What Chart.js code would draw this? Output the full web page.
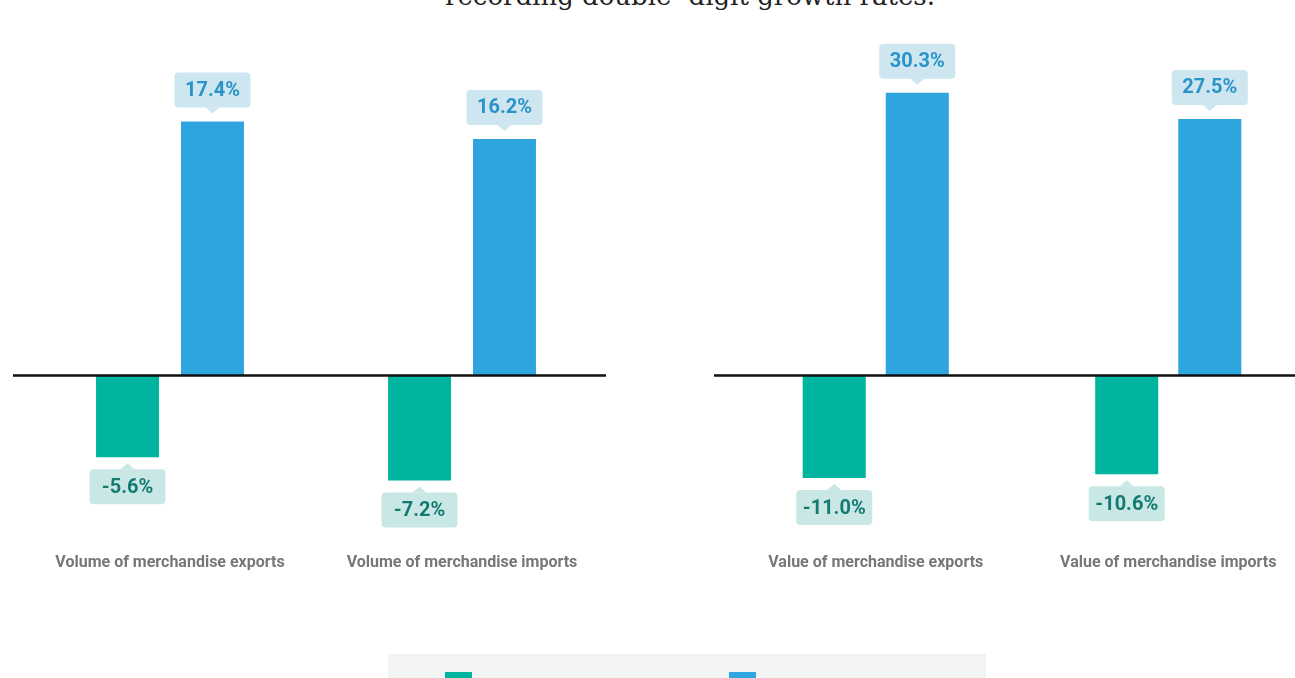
<!DOCTYPE html>
<html>
<head>
<meta charset="utf-8">
<script src="https://cdn.jsdelivr.net/npm/chart.js@4.4.0/dist/chart.umd.min.js"></script>
<style>
  html, body { margin: 0; padding: 0; background: #fff; width: 1295px; height: 678px; overflow: hidden; position: relative; }
  .title { position: absolute; left: 445px; top: -20px; white-space: nowrap; font-family: "DejaVu Serif", serif; font-size: 26px; line-height: 32px; color: #222; }
  canvas { position: absolute; top: 0; }
  #volumeChart { left: 0; }
  #valueChart { left: 680px; }
  .legend { position: absolute; left: 388px; top: 654px; width: 598px; height: 60px; background: #f2f3f3; font-family: Roboto, sans-serif; font-size: 15px; color: #555; }
  .legend .item { position: absolute; top: 18px; display: flex; align-items: flex-start; }
  .legend .swatch { width: 27px; height: 20px; margin-right: 10px; }
  .legend .text { margin-top: 10px; }
</style>
</head>
<body>
<div class="title">recording double- digit growth rates.</div>
<canvas id="volumeChart" width="640" height="600"></canvas>
<canvas id="valueChart" width="680" height="600"></canvas>
<div class="legend" id="legend"></div>

<script>
// Data
const volumeCategories = ['Volume of merchandise exports', 'Volume of merchandise imports'];
const valueCategories = ['Value of merchandise exports', 'Value of merchandise imports'];
const seriesLabels = ['2020', '2021'];
const volume2020 = [-5.6, -7.2];
const volume2021 = [17.4, 16.2];
const value2020 = [-11.0, -10.6];
const value2021 = [30.3, 27.5];

const greenBar = '#00b5a0', blueBar = '#2ea5de';
const greenLabel = { bg: '#c9e8e5', text: '#137a72' };
const blueLabel = { bg: '#cde6f0', text: '#2a93c9' };

// value callouts above / below each bar
const calloutPlugin = {
  id: 'callouts',
  afterDatasetsDraw(chart) {
    const ctx = chart.ctx;
    chart.data.datasets.forEach((ds, di) => {
      const meta = chart.getDatasetMeta(di);
      const style = di === 0 ? greenLabel : blueLabel;
      meta.data.forEach((bar, i) => {
        const v = ds.data[i];
        const up = v >= 0;
        const w = 76, h = 35;
        const x = bar.x;
        const top = up ? bar.y - 14 - h : bar.y + 12;
        ctx.save();
        ctx.fillStyle = style.bg;
        ctx.beginPath();
        ctx.roundRect(x - w / 2, top, w, h, 4);
        ctx.fill();
        ctx.beginPath();
        if (up) {
          ctx.moveTo(x - 7, top + h); ctx.lineTo(x, top + h + 6); ctx.lineTo(x + 7, top + h);
        } else {
          ctx.moveTo(x - 7, top); ctx.lineTo(x, top - 6); ctx.lineTo(x + 7, top);
        }
        ctx.fill();
        ctx.fillStyle = style.text;
        ctx.font = 'bold 20px Roboto';
        ctx.textAlign = 'center';
        ctx.textBaseline = 'middle';
        ctx.fillText(v.toFixed(1) + '%', x, top + h / 2 + 1);
        ctx.restore();
      });
    });
  }
};

// black baseline at zero
const zeroLinePlugin = {
  id: 'zeroLine',
  afterDatasetsDraw(chart, args, opts) {
    const ctx = chart.ctx;
    const y = chart.scales.y.getPixelForValue(0);
    const { left, right } = chart.chartArea;
    ctx.save();
    ctx.strokeStyle = '#111';
    ctx.lineWidth = 2.5;
    ctx.beginPath();
    ctx.moveTo(left - opts.extendLeft, y);
    ctx.lineTo(right + opts.extendRight, y);
    ctx.stroke();
    ctx.restore();
  }
};

function makeChart(id, categories, first, second, cfg) {
  return new Chart(document.getElementById(id), {
    type: 'bar',
    data: {
      labels: categories,
      datasets: [
        { label: seriesLabels[0], data: first, backgroundColor: greenBar, borderWidth: 0,
          barPercentage: cfg.barPct, categoryPercentage: cfg.catPct },
        { label: seriesLabels[1], data: second, backgroundColor: blueBar, borderWidth: 0,
          barPercentage: cfg.barPct, categoryPercentage: cfg.catPct }
      ]
    },
    options: {
      responsive: false,
      animation: false,
      layout: { padding: cfg.padding },
      plugins: {
        legend: { display: false },
        tooltip: { enabled: false },
        zeroLine: cfg.line
      },
      scales: {
        x: {
          grid: { display: false, drawTicks: false },
          border: { display: false },
          ticks: {
            color: '#777',
            font: { family: 'Roboto', size: 16, weight: 'bold' },
            padding: 8,
            maxRotation: 0,
            autoSkip: false
          }
        },
        y: { display: false, min: cfg.min, max: cfg.max }
      }
    },
    plugins: [zeroLinePlugin, calloutPlugin]
  });
}

makeChart('volumeChart', volumeCategories, volume2020, volume2021, {
  min: -11.61, max: 24.35, barPct: 0.741, catPct: 0.582,
  padding: { top: 20, bottom: 19.8, left: 24, right: 32 },
  line: { extendLeft: 11, extendRight: -2 }
});

makeChart('valueChart', valueCategories, value2020, value2021, {
  min: -18.17, max: 38.1, barPct: 0.759, catPct: 0.568,
  padding: { top: 20, bottom: 19.8, left: 49.5, right: 45.5 },
  line: { extendLeft: 15.5, extendRight: 0 }
});

// Legend (shared by both charts)
const legend = document.getElementById('legend');
[[seriesLabels[0], greenBar, 57], [seriesLabels[1], blueBar, 341]].forEach(([text, color, left]) => {
  const item = document.createElement('div');
  item.className = 'item';
  item.style.left = left + 'px';
  item.innerHTML = '<span class="swatch" style="background:' + color + '"></span><span class="text">' + text + '</span>';
  legend.appendChild(item);
});
</script>
</body>
</html>
